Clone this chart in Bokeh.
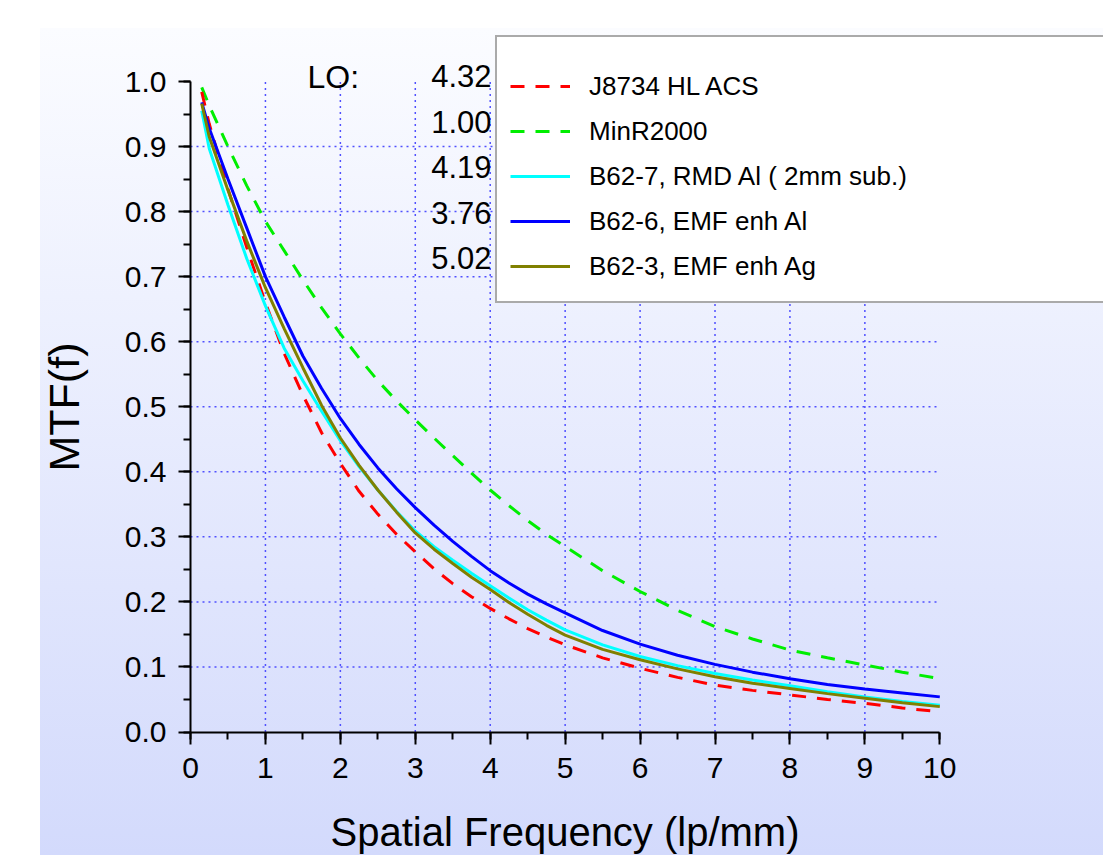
from bokeh.plotting import figure
from bokeh.models import (Range1d, SingleIntervalTicker, PrintfTickFormatter,
                          Legend, LegendItem, Label)
from bokeh.embed import file_html
from bokeh.resources import INLINE

# ---------------- data ----------------
freq = [0.15, 0.25, 0.5, 0.75, 1.0, 1.25, 1.5, 1.75, 2.0, 2.25, 2.5, 2.75, 3.0,
        3.25, 3.5, 3.75, 4.0, 4.25, 4.5, 4.75, 5.0, 5.5, 6.0, 6.5, 7.0, 7.5, 8.0,
        8.5, 9.0, 9.5, 10.0]

mtf_j8734 = [0.984, 0.935, 0.835, 0.745, 0.660, 0.582, 0.518, 0.460, 0.413, 0.370,
             0.335, 0.304, 0.277, 0.251, 0.228, 0.208, 0.190, 0.174, 0.159, 0.146,
             0.134, 0.114, 0.098, 0.084, 0.072, 0.064, 0.057, 0.050, 0.044, 0.037,
             0.031]
mtf_minr2000 = [0.991, 0.963, 0.900, 0.840, 0.785, 0.740, 0.695, 0.652, 0.612, 0.575,
                0.540, 0.509, 0.480, 0.452, 0.425, 0.398, 0.372, 0.348, 0.325, 0.304,
                0.285, 0.248, 0.216, 0.187, 0.162, 0.143, 0.126, 0.114, 0.103, 0.092,
                0.082]
mtf_b62_7 = [0.955, 0.897, 0.810, 0.728, 0.655, 0.590, 0.540, 0.493, 0.448, 0.408,
             0.372, 0.339, 0.309, 0.285, 0.264, 0.244, 0.225, 0.206, 0.188, 0.172,
             0.157, 0.134, 0.116, 0.102, 0.090, 0.080, 0.071, 0.062, 0.054, 0.047,
             0.041]
mtf_b62_6 = [0.968, 0.928, 0.850, 0.775, 0.700, 0.638, 0.578, 0.528, 0.482, 0.442,
             0.406, 0.374, 0.345, 0.318, 0.293, 0.270, 0.248, 0.229, 0.212, 0.197,
             0.183, 0.156, 0.135, 0.118, 0.104, 0.092, 0.082, 0.073, 0.066, 0.060,
             0.054]
mtf_b62_3 = [0.966, 0.915, 0.833, 0.755, 0.683, 0.620, 0.560, 0.502, 0.452, 0.410,
             0.372, 0.338, 0.306, 0.281, 0.259, 0.238, 0.219, 0.199, 0.181, 0.164,
             0.149, 0.127, 0.111, 0.097, 0.085, 0.075, 0.067, 0.059, 0.052, 0.045,
             0.039]

series_names = ["J8734 HL ACS", "MinR2000", "B62-7, RMD Al ( 2mm sub.)",
                "B62-6, EMF enh Al", "B62-3, EMF enh Ag"]
lo_values = ["4.32", "1.00", "4.19", "3.76", "5.02"]
lo_title = "LO:"

x_axis_bounds = (0, 10)
y_axis_bounds = (0, 1.0)
x_grid_ticks = [1, 2, 3, 4, 5, 6, 7, 8, 9]
y_grid_ticks = [0.1, 0.2, 0.3, 0.4, 0.5, 0.6, 0.7, 0.8, 0.9]

x_title = "Spatial Frequency (lp/mm)"
y_title = "MTF(f)"

# ---------------- layout (pixels) ----------------
W, H = 1103, 855
PX_X0, PX_X1 = 190.0, 939.3     # screen x of x=0 and x=10
PX_Y0, PX_Y1 = 731.5, 81.0      # screen y of y=0 and y=1
sx = (PX_X1 - PX_X0) / (x_axis_bounds[1] - x_axis_bounds[0])
sy = (PX_Y0 - PX_Y1) / (y_axis_bounds[1] - y_axis_bounds[0])
x_range = Range1d(x_axis_bounds[0] - PX_X0 / sx, x_axis_bounds[1] + (W - PX_X1) / sx)
y_range = Range1d(y_axis_bounds[0] - (H - PX_Y0) / sy, y_axis_bounds[1] + PX_Y1 / sy)


def data_y(py):
    return y_axis_bounds[0] + (PX_Y0 - py) / sy


def data_x(px):
    return x_axis_bounds[0] + (px - PX_X0) / sx


FONT = "Liberation Sans"
colors = ["#ff0000", "#00ee00", "#00ffff", "#0000ff", "#808000"]
dashes = ["14 11", "14 11", "solid", "solid", "solid"]

p = figure(width=W, height=H, output_backend="svg", toolbar_location=None,
           x_range=x_range, y_range=y_range,
           min_border=0, min_border_left=0, min_border_right=0,
           min_border_top=0, min_border_bottom=0)
p.styles = {
    "background-image": "linear-gradient(to bottom, #fbfcff, #d3dafc)",
    "background-repeat": "no-repeat",
    "background-position": "40px 28px",
    "background-size": "calc(100% - 40px) calc(100% - 28px)",
}
p.background_fill_color = None
p.border_fill_color = None
p.outline_line_color = None
p.xgrid.visible = False
p.ygrid.visible = False

# dotted grid, limited to the axes box
grid_kw = dict(line_color="#5050ff", line_width=1.5, line_dash="2 4")
p.segment(x0=x_grid_ticks, x1=x_grid_ticks,
          y0=[y_axis_bounds[0]] * len(x_grid_ticks),
          y1=[y_axis_bounds[1]] * len(x_grid_ticks), **grid_kw)
p.segment(x0=[x_axis_bounds[0]] * len(y_grid_ticks),
          x1=[x_axis_bounds[1]] * len(y_grid_ticks),
          y0=y_grid_ticks, y1=y_grid_ticks, **grid_kw)

# axes, placed at the data origin
p.xaxis.fixed_location = y_axis_bounds[0]
p.yaxis.fixed_location = x_axis_bounds[0]
p.xaxis.bounds = x_axis_bounds
p.yaxis.bounds = y_axis_bounds
p.xaxis.ticker = SingleIntervalTicker(interval=1, num_minor_ticks=2)
p.yaxis.ticker = SingleIntervalTicker(interval=0.1, num_minor_ticks=2)
p.yaxis.formatter = PrintfTickFormatter(format="%.1f")
for ax in (p.xaxis, p.yaxis):
    ax.axis_line_width = 2
    ax.axis_line_color = "black"
    ax.major_tick_line_width = 2
    ax.minor_tick_line_width = 2
    ax.major_tick_line_color = "black"
    ax.minor_tick_line_color = "black"
    ax.major_tick_out = 12
    ax.major_tick_in = 0
    ax.minor_tick_out = 7
    ax.minor_tick_in = 0
    ax.major_label_text_font = FONT
    ax.major_label_text_font_size = "30px"
    ax.major_label_text_color = "black"
    ax.axis_label_text_font = FONT
    ax.axis_label_text_font_style = "normal"
    ax.axis_label_text_color = "black"
p.xaxis.axis_label = x_title
p.yaxis.axis_label = y_title
p.xaxis.axis_label_text_font_size = "40px"
p.yaxis.axis_label_text_font_size = "43px"
p.xaxis.major_label_standoff = 14
p.xaxis.axis_label_standoff = 28
p.yaxis.major_label_standoff = 12
p.yaxis.axis_label_standoff = 34

# curves
series = [mtf_j8734, mtf_minr2000, mtf_b62_7, mtf_b62_6, mtf_b62_3]
draw_order = [1, 0, 2, 3, 4]
renderers = {}
for i in draw_order:
    renderers[i] = p.line(freq, series[i], line_color=colors[i], line_width=3,
                          line_dash=dashes[i])

legend = Legend(items=[LegendItem(label=series_names[i], renderers=[renderers[i]])
                       for i in range(len(series_names))],
                location=(495, 552))
legend.title = " "
legend.title_text_font_size = "9px"
legend.title_standoff = 4
legend.label_text_font = FONT
legend.label_text_font_size = "26px"
legend.label_text_color = "black"
legend.glyph_width = 60
legend.glyph_height = 44
legend.label_height = 44
legend.label_width = 620
legend.label_standoff = 19
legend.spacing = 1
legend.padding = 13
legend.margin = 0
legend.border_line_color = "#555555"
legend.border_line_width = 2
legend.background_fill_color = "white"
legend.background_fill_alpha = 1.0
p.add_layout(legend, "center")

# "LO:" column of values (vertically centred on the given screen rows)
p.add_layout(Label(x=data_x(307), y=data_y(76.5), text=lo_title, text_font=FONT,
                   text_font_size="32px", text_color="black",
                   text_baseline="middle"))
lo_row0, lo_row_step = 75.5, 45.5
for k, v in enumerate(lo_values):
    p.add_layout(Label(x=data_x(491), y=data_y(lo_row0 + k * lo_row_step), text=v,
                       text_font=FONT, text_font_size="31px", text_color="black",
                       text_align="right", text_baseline="middle"))

open("out.html", "w").write(file_html(p, INLINE))
